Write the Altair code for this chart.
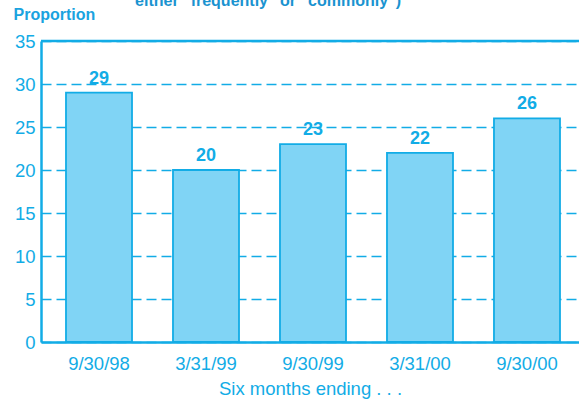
import altair as alt
import pandas as pd

periods = ["9/30/98", "3/31/99", "9/30/99", "3/31/00", "9/30/00"]
values = [29, 20, 23, 22, 26]
y_ticks = [0, 5, 10, 15, 20, 25, 30, 35]
cut_title = 'either "frequently" or "commonly")'

df = pd.DataFrame({"period": periods, "value": values})

CYAN = "#12ACE6"
FILL = "#80D4F5"
FONT = "Liberation Sans"

x_enc = alt.X(
    "period:N", sort=periods,
    scale=alt.Scale(paddingInner=0.383, paddingOuter=0.2056, align=0.568),
    axis=alt.Axis(title="Six months ending . . .", labelAngle=0, labelFontSize=18.5,
                  labelColor=CYAN, labelFont=FONT, labelPadding=12, ticks=False,
                  domainColor=CYAN, domainWidth=2.5, titleFont=FONT,
                  titleFontSize=18.5, titleFontWeight="normal", titleColor=CYAN,
                  titlePadding=7),
)
y_scale = alt.Scale(domain=[0, 35], nice=False)

bars = alt.Chart(df).mark_bar(fill=FILL, stroke=CYAN, strokeWidth=1.8).encode(
    x=x_enc,
    y=alt.Y("value:Q", scale=y_scale,
            axis=alt.Axis(values=y_ticks, title="Proportion", titleAngle=0,
                          titleX=-28, titleY=-27, titleAlign="left",
                          titleBaseline="middle", titleFont=FONT,
                          titleFontSize=16, titleFontWeight="bold",
                          titleColor="#1AA3DF", labelFontSize=18.5,
                          labelColor=CYAN, labelFont=FONT, labelPadding=6,
                          ticks=False, domainColor=CYAN, domainWidth=2.5,
                          grid=True, gridColor=CYAN, gridDash=[10, 5],
                          gridWidth=1.3)),
)

labels = alt.Chart(df).mark_text(
    baseline="bottom", dy=-5, fontSize=18, fontWeight="bold", font=FONT,
    color=CYAN,
).encode(
    x=alt.X("period:N", sort=periods),
    y=alt.Y("value:Q", scale=y_scale),
    text="value:Q",
)

top_rule = alt.Chart(pd.DataFrame({"y": [35]})).mark_rule(
    color=CYAN, strokeWidth=2.5
).encode(y=alt.Y("y:Q", scale=y_scale))

title_txt = alt.Chart(pd.DataFrame({"t": [cut_title]})).mark_text(
    align="center", baseline="alphabetic", fontSize=16, fontWeight="bold",
    font=FONT, color="#1A93D0",
).encode(x=alt.value(227), y=alt.value(-35), text="t:N")

chart = alt.layer(bars, labels, top_rule, title_txt).properties(
    width=538, height=301,
    autosize=alt.AutoSizeParams(type="none"),
    padding={"left": 41, "top": 41, "right": 0, "bottom": 60},
).configure_view(stroke=None).configure(background="white")

chart.save("out.html", embed_options={"renderer": "svg", "actions": False})
